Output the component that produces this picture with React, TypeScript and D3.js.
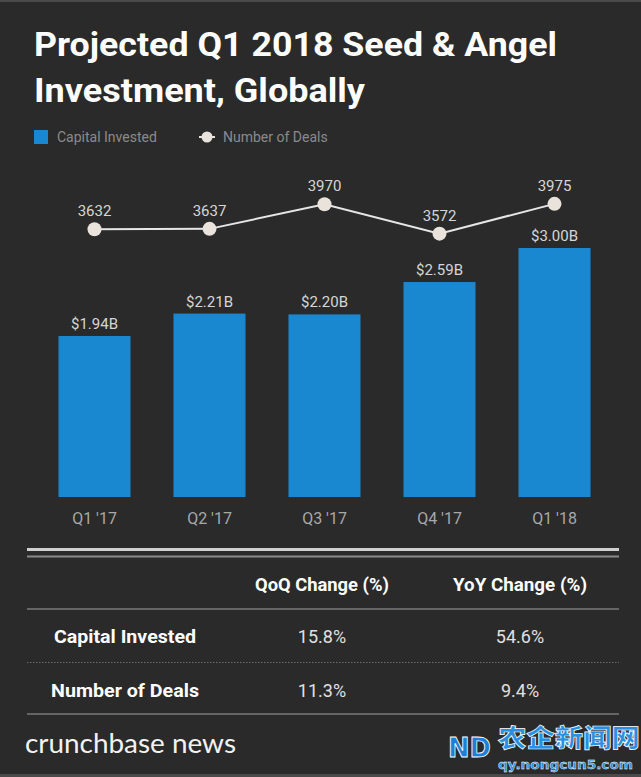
import React from "react";
import * as d3 from "d3";

const quarters = ["Q1 '17", "Q2 '17", "Q3 '17", "Q4 '17", "Q1 '18"];
const capital = [1.94, 2.21, 2.2, 2.59, 3.0];
const capitalLabels = ["$1.94B", "$2.21B", "$2.20B", "$2.59B", "$3.00B"];
const deals = [3632, 3637, 3970, 3572, 3975];

const tableCols = ["QoQ Change (%)", "YoY Change (%)"];
const tableRows = ["Capital Invested", "Number of Deals"];
const tableValues = [
  ["15.8%", "54.6%"],
  ["11.3%", "9.4%"],
];

const W = 641;
const H = 777;
const BG = "#2a2a2a";
const BLUE = "#1a88d1";
const DOT = "#e9e3dc";

export default function App() {
  const x = d3
    .scaleBand<string>()
    .domain(quarters)
    .range([37, 612])
    .paddingInner(0.374)
    .paddingOuter(0.187);
  const yBar = d3.scaleLinear().domain([0, 3]).range([497, 248]);
  const yLine = d3.scaleLinear().domain([3000, 4000]).range([276, 202]);
  const cx = (q: string) => (x(q) as number) + x.bandwidth() / 2;

  const line = d3
    .line<number>()
    .x((_, i) => cx(quarters[i]))
    .y((d) => yLine(d));

  const colX = [322, 520];
  const rowY = [643, 697];
  const rowX = [54, 51];
  const rowLen = [142, 148];

  return (
    <svg
      width={W}
      height={H}
      style={{ position: "absolute", left: 0, top: 0, display: "block" }}
      fontFamily="Roboto, 'Noto Sans', sans-serif"
    >
      <rect x={0} y={0} width={W} height={H} fill={BG} />
      <rect x={0} y={0} width={W} height={2} fill="#4a4a4a" />
      <rect x={0} y={H - 3} width={W} height={3} fill="#4a4a4a" />

      {/* Title */}
      <text x={34} y={56} fill="#fff" fontSize={34} fontWeight={700} textLength={523} lengthAdjust="spacingAndGlyphs">
        Projected Q1 2018 Seed &amp; Angel
      </text>
      <text x={34} y={102} fill="#fff" fontSize={34} fontWeight={700} textLength={331} lengthAdjust="spacingAndGlyphs">
        Investment, Globally
      </text>

      {/* Legend */}
      <rect x={34} y={130} width={14} height={14} fill={BLUE} />
      <text x={57} y={142} fill="#8a8a8a" fontSize={14}>
        Capital Invested
      </text>
      <line x1={199} x2={215} y1={137} y2={137} stroke={DOT} strokeWidth={2} />
      <circle cx={207} cy={137} r={5.5} fill={DOT} />
      <text x={223} y={142} fill="#8a8a8a" fontSize={14}>
        Number of Deals
      </text>

      {/* Bars */}
      {quarters.map((q, i) => (
        <g key={q}>
          <rect
            x={x(q)}
            y={yBar(capital[i])}
            width={x.bandwidth()}
            height={yBar(0) - yBar(capital[i])}
            fill={BLUE}
          />
          <text x={cx(q)} y={yBar(capital[i]) - 7} fill="#d6d6d6" fontSize={15} textAnchor="middle">
            {capitalLabels[i]}
          </text>
          <text x={cx(q)} y={524} fill="#a8a8a8" fontSize={16} textAnchor="middle">
            {q}
          </text>
        </g>
      ))}

      {/* Line */}
      <path d={line(deals) || ""} fill="none" stroke="#e6e6e6" strokeWidth={2} />
      {deals.map((d, i) => (
        <g key={i}>
          <circle cx={cx(quarters[i])} cy={yLine(d)} r={7} fill={DOT} />
          <text x={cx(quarters[i])} y={yLine(d) - 13} fill="#d6d6d6" fontSize={15} textAnchor="middle">
            {d}
          </text>
        </g>
      ))}

      {/* Table */}
      <rect x={27} y={548} width={592} height={3} fill="#d0d0d0" />
      <rect x={27} y={555.5} width={592} height={2} fill="#8a8a8a" />
      {tableCols.map((c, i) => (
        <text key={c} x={colX[i]} y={591} fill="#fff" fontSize={18} fontWeight={700} textAnchor="middle" textLength={134} lengthAdjust="spacingAndGlyphs">
          {c}
        </text>
      ))}
      <line x1={27} x2={619} y1={609} y2={609} stroke="#7a7a7a" strokeWidth={1.5} />
      {tableRows.map((r, i) => (
        <g key={r}>
          <text x={rowX[i]} y={rowY[i]} fill="#fff" fontSize={18} fontWeight={700} textLength={rowLen[i]} lengthAdjust="spacingAndGlyphs">
            {r}
          </text>
          {tableValues[i].map((v, j) => (
            <text key={j} x={colX[j]} y={rowY[i]} fill="#e0e0e0" fontSize={18} textAnchor="middle">
              {v}
            </text>
          ))}
        </g>
      ))}
      <line x1={27} x2={619} y1={662.5} y2={662.5} stroke="#6a6a6a" strokeWidth={1} strokeDasharray="1.5,1.5" />
      <line x1={27} x2={619} y1={714} y2={714} stroke="#7a7a7a" strokeWidth={1.5} />

      {/* Footer */}
      <text x={25} y={753} fill="#f2f2f2" fontSize={26} fontFamily="Lato, 'Open Sans', sans-serif" textLength={211} lengthAdjust="spacingAndGlyphs">
        crunchbase news
      </text>

      {/* Watermark */}
      <text x={448} y={757} fill="#1f7fd6" stroke="#ffffff" strokeWidth={0.8} fontSize={26} fontWeight={900} fontFamily="'DejaVu Sans', sans-serif" textLength={43} lengthAdjust="spacingAndGlyphs">
        ND
      </text>
      <text x={498} y={747} fill="#2a8fe0" stroke="#ffffff" strokeWidth={0.7} fontSize={25} fontWeight={900} fontFamily="'Noto Sans CJK SC', sans-serif" textLength={142} lengthAdjust="spacingAndGlyphs">
        农企新闻网
      </text>
      <text x={498} y={769} fill="#2a8fe0" stroke="#ffffff" strokeWidth={0.4} fontSize={13} fontWeight={700} fontFamily="'DejaVu Sans', sans-serif" textLength={135} lengthAdjust="spacingAndGlyphs">
        qy.nongcun5.com
      </text>
    </svg>
  );
}
